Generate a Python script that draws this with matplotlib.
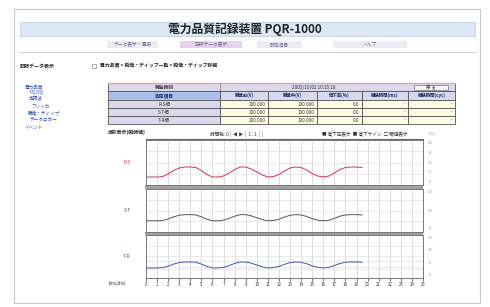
import matplotlib
matplotlib.use("Agg")
import matplotlib.pyplot as plt
import numpy as np
from matplotlib.patches import Rectangle

plt.rcParams["font.family"] = ["Noto Sans CJK JP", "DejaVu Sans"]

W, H = 490, 307

TITLE = "電力品質記録装置 PQR-1000"
MENU = ["データ表示・選択", "記録データ表示", "設定項目", "ヘルプ"]
SIDE_TITLE = "記録データ表示"
SIDE_ITEMS = ["電力品質", "PQ/VQ", "高調波", "フリッカ", "瞬低・ディップ", "データロガー", "イベント"]
BREADCRUMB = "電力品質 > 瞬低・ディップ一覧 > 瞬低・ディップ詳細"
EVENT_TIME = "2005/10/02 10:15:18"
COLUMNS = ["瞬低前(V)", "瞬低中(V)", "低下率(%)", "継続時間(ms)", "継続時間(cyc)"]
PHASES = ["R-S相", "S-T相", "T-R相"]
BEFORE = ["100.000", "100.000", "100.000"]
DURING = ["100.000", "100.000", "100.000"]
DROP = ["0.0", "0.0", "0.0"]
DUR_MS = ["-", "-", "-"]
DUR_CYC = ["-", "-", "-"]

CHART_TITLE = "波形表示(瞬時値)"
TIME_TICKS = list(range(26))
TIME = np.arange(0, 20, 0.5)
WAVE_RS = [97.0, 97.0, 97.0, 97.3, 98.8, 100.9, 102.4, 103.0, 103.0, 102.7,
           100.9, 98.5, 97.0, 97.0, 97.6, 99.4, 101.5, 103.0, 103.0, 101.8,
           100.0, 98.2, 97.0, 97.3, 98.5, 100.6, 102.4, 103.0, 102.7, 101.2,
           99.1, 97.6, 97.0, 97.6, 99.4, 101.5, 102.7, 103.0, 103.0, 102.7]
WAVE_ST = [98.0, 98.0, 98.0, 98.2, 99.2, 100.6, 101.6, 102.0, 102.0, 101.8,
           100.6, 99.0, 98.0, 98.0, 98.4, 99.6, 101.0, 102.0, 102.0, 101.2,
           100.0, 98.8, 98.0, 98.2, 99.0, 100.4, 101.6, 102.0, 101.8, 100.8,
           99.4, 98.4, 98.0, 98.4, 99.6, 101.0, 101.8, 102.0, 102.0, 101.8]
WAVE_TR = [98.0, 98.0, 98.0, 98.2, 99.2, 100.6, 101.6, 102.0, 102.0, 101.8,
           100.6, 99.0, 98.0, 98.0, 98.4, 99.6, 101.0, 102.0, 102.0, 101.2,
           100.0, 98.8, 98.0, 98.2, 99.0, 100.4, 101.6, 102.0, 101.8, 100.8,
           99.4, 98.4, 98.0, 98.4, 99.6, 101.0, 101.8, 102.0, 102.0, 101.8]
RIGHT_LABELS = [["20", "15", "10", "5", "0"], ["20", "10", "0"], ["20", "10", "5", "0"]]


def rect(ax, x0, y0, x1, y1, fc, ec="none", lw=0.6, z=1):
    ax.add_patch(Rectangle((x0, y0), x1 - x0, y1 - y0, facecolor=fc,
                           edgecolor=ec, linewidth=lw, zorder=z))


def txt(ax, x, y, s, size=3.6, color="#333333", ha="left", weight="normal"):
    ax.text(x, y, s, fontsize=size, color=color, ha=ha, va="center",
            weight=weight, zorder=5)


fig = plt.figure(figsize=(4.9, 3.07), dpi=100)
bg = fig.add_axes([0, 0, 1, 1])
bg.set_xlim(0, W)
bg.set_ylim(H, 0)
bg.axis("off")

# page frame and header
rect(bg, 14, 9, 480, 303, "white", "#c8c8c8", 0.8, 0)
rect(bg, 20, 22, 475, 36, "#dce8f5", "#b8c8d8", 0.5)
txt(bg, 245, 29, TITLE, size=8.5, color="#222222", ha="center", weight="bold")
menu_x = [(107, 158), (180, 242), (257, 302), (333, 407)]
for (a, b), label in zip(menu_x, MENU):
    fc = "#e4d2ee" if label == "記録データ表示" else "#efebf5"
    rect(bg, a, 41, b, 48, fc)
    txt(bg, (a + b) / 2, 44.5, label, size=3.4, color="#6a6a90", ha="center")
bg.plot([20, 475], [52, 52], color="#c0c0c0", lw=0.6)

# side menu
txt(bg, 20, 66, SIDE_TITLE, size=3.6, color="#222222", weight="bold")
side_y = [87, 92.5, 98, 106, 114, 120, 127]
side_x = [25, 29, 29, 31, 28, 30, 25]
for x, y, s in zip(side_x, side_y, SIDE_ITEMS):
    txt(bg, x, y, s, size=3.3, color="#3050b0")

# breadcrumb
rect(bg, 92, 64, 96, 68, "white", "#888888", 0.5)
txt(bg, 100, 66, BREADCRUMB, size=3.5, color="#222222", weight="bold")

# table
cx = [108, 220, 268, 317, 362, 408, 455]
ry = [83, 91, 100, 108, 116, 124]
rect(bg, cx[0], ry[0], cx[-1], ry[1], "#dcd8ea", "#555555", 0.6)
bg.plot([cx[0], cx[-1]], [ry[0], ry[0]], color="#d8a8bc", lw=1.0, zorder=3)
bg.plot([cx[1], cx[1]], [ry[0], ry[1]], color="#777777", lw=0.5, zorder=3)
txt(bg, (cx[0] + cx[1]) / 2, (ry[0] + ry[1]) / 2, "発生時刻", size=3.4, ha="center", weight="bold")
txt(bg, (cx[1] + cx[5]) / 2, (ry[0] + ry[1]) / 2, EVENT_TIME, size=3.4, ha="center")
rect(bg, 414, ry[0] + 1.5, 448, ry[1] - 1.5, "#f4f4f4", "#777777", 0.5, 3)
txt(bg, 431, (ry[0] + ry[1]) / 2, "戻 る", size=3.2, ha="center")
rect(bg, cx[0], ry[1], cx[1], ry[2], "#a8c0ea", "#555555", 0.6)
txt(bg, (cx[0] + cx[1]) / 2, (ry[1] + ry[2]) / 2, "測定項目", size=3.4, color="#1a2a60", ha="center", weight="bold")
for i, col in enumerate(COLUMNS):
    rect(bg, cx[i + 1], ry[1], cx[i + 2], ry[2], "#d6daee", "#555555", 0.6)
    txt(bg, (cx[i + 1] + cx[i + 2]) / 2, (ry[1] + ry[2]) / 2, col, size=3.2, color="#1a2a60", ha="center", weight="bold")
rows = list(zip(PHASES, BEFORE, DURING, DROP, DUR_MS, DUR_CYC))
for r, row in enumerate(rows):
    y0, y1 = ry[r + 2], ry[r + 3]
    rect(bg, cx[0], y0, cx[1], y1, "#dcd8ec", "#555555", 0.6)
    txt(bg, (cx[0] + cx[1]) / 2, (y0 + y1) / 2, row[0], size=3.3, ha="center")
    for i, val in enumerate(row[1:]):
        rect(bg, cx[i + 1], y0, cx[i + 2], y1, "#fffbe2", "#555555", 0.6)
        txt(bg, cx[i + 2] - 3, (y0 + y1) / 2, val, size=3.3, ha="right")

# chart header
txt(bg, 108, 132, CHART_TITLE, size=3.5, color="#222222", weight="bold")
txt(bg, 210, 134, "時間軸: 0 |  ◀ ▶  |  1 : 1  |  |", size=3.3)
txt(bg, 322, 134, "■ 低下率表示  ■ 低下ライン  □ 閾値表示", size=3.3)

# waveform panels
X0, X1 = 146, 423
panels = [(140, 185, WAVE_RS, "#e03050", (92.2, 119.2), "R-S"),
          (189, 232, WAVE_ST, "#555555", (90.7, 118.7), "S-T"),
          (235, 278, WAVE_TR, "#4050c0", (91.3, 120.0), "T-R")]
rect(bg, X0 - 1, 185, X1, 189, "#a0a0a0")
rect(bg, X0 - 1, 232, X1, 235, "#a0a0a0")
bg.plot([X0, X1], [139, 139], color="#666666", lw=0.8)
axes = []
for k, (top, bot, wave, color, ylim, name) in enumerate(panels):
    ax = fig.add_axes([X0 / W, 1 - bot / H, (X1 - X0) / W, (bot - top) / H])
    ax.set_xlim(0, 25)
    ax.set_ylim(*ylim)
    for xv in TIME_TICKS:
        ax.axvline(xv, color="#cfcfcf", lw=0.5, zorder=0)
    for yv in np.linspace(ylim[0], ylim[1], 5)[1:-1]:
        ax.axhline(yv, color="#e2e2e2", lw=0.5, zorder=0)
    if k == 2:
        ax.axhline(102.5, color="#e8e0a0", lw=0.6, ls="--")
        ax.axhline(97.5, color="#e8e0a0", lw=0.6, ls="--")
    ax.plot(TIME, wave, color=color, lw=0.7)
    for sp in ax.spines.values():
        sp.set_color("#777777")
        sp.set_linewidth(0.7)
    ax.set_yticks([])
    if k < 2:
        ax.set_xticks([])
    else:
        ax.set_xticks(TIME_TICKS)
        ax.tick_params(axis="x", labelsize=3.2, length=2, width=0.5, pad=1,
                       colors="#333333")
    txt(bg, 127, top + (bot - top) * 0.5, name, size=3.4, color=color, ha="center")
    labels = RIGHT_LABELS[k]
    lcol = "#e07090" if k == 0 else "#90a060"
    for j, s in enumerate(labels):
        yy = top + 3 + j * (bot - top - 6) / (len(labels) - 1)
        txt(bg, 430, yy, s, size=3.0, color=lcol, ha="center")
    axes.append(ax)
txt(bg, 432, 133, "(%)", size=3.0, color="#a070b0", ha="center")
txt(bg, 117, 283, "(ms/div)", size=3.3, ha="center")

fig.savefig("out.png", dpi=100)
